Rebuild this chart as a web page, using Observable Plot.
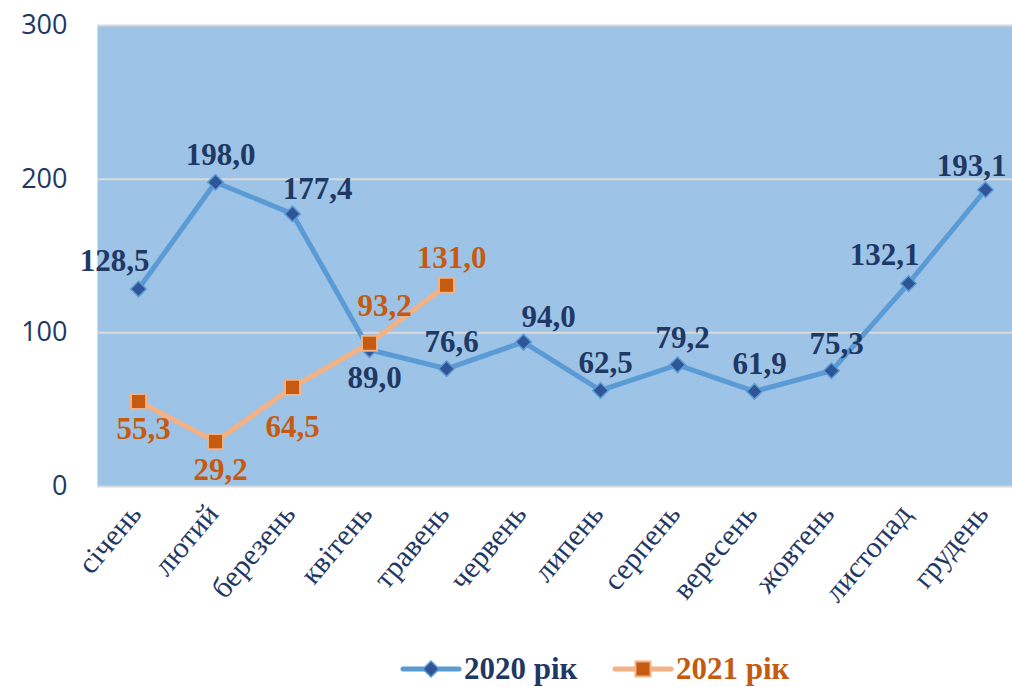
<!DOCTYPE html>
<html><head><meta charset="utf-8">
<script src="https://cdn.jsdelivr.net/npm/d3@7"></script>
<script src="https://cdn.jsdelivr.net/npm/@observablehq/plot@0.6"></script>
<style>
body{margin:0;background:#fff;}
#chart{position:relative;width:1012px;height:687px;overflow:hidden;}
#legend{position:absolute;left:0;top:640px;}
</style>
</head><body><div id="chart"></div>
<script>
const months = ["січень","лютий","березень","квітень","травень","червень","липень","серпень","вересень","жовтень","листопад","грудень"];
const values2020 = [128.5,198.0,177.4,89.0,76.6,94.0,62.5,79.2,61.9,75.3,132.1,193.1];
const values2021 = [55.3,29.2,64.5,93.2,131.0];
const labelPos2020 = ["tl","t","tr","b","t","tr","t","t","t","t","tl","te"];
const labelPos2021 = ["b","b","b2","tr2","t"];
const yTicks = [0,100,200,300];
const seriesNames = ["2020 рік","2021 рік"];

const offsets = {
  t:[5,-27], tl:[-24,-28], tr:[25,-25], tr2:[15,-37], b:[5,28], b2:[0,40], te:[-14,-24]
};
const fmt = v => d3.format(".1f")(v).replace(".", ",");
const d2020 = values2020.map((v,i)=>({month:months[i], value:v, pos:labelPos2020[i]}));
const d2021 = values2021.map((v,i)=>({month:months[i], value:v, pos:labelPos2021[i]}));

function labels(data, color){
  return Object.entries(offsets).map(([k,[dx,dy]]) =>
    Plot.text(data.filter(d=>d.pos===k), {x:"month", y:"value", text:d=>fmt(d.value), dx, dy,
      fill:color, fontSize:31, fontWeight:"bold", fontFamily:"Liberation Serif, Times New Roman, serif"}));
}

const c2020 = {line:"#5B9BD5", marker:"#2F5597", text:"#1F3864"};
const c2021 = {line:"#F4B183", marker:"#C55A11", text:"#C55A11"};

const plot = Plot.plot({
  width:1012, height:640,
  marginLeft:97, marginRight:-13, marginTop:25, marginBottom:154,
  style:{background:"transparent", overflow:"visible"},
  x:{type:"point", domain:months, padding:0.5, label:null},
  y:{domain:[0,300], label:null},
  marks:[
    Plot.frame({fill:"#9DC3E6", stroke:null}),
    Plot.ruleY(yTicks, {stroke:"#D9D9D9", strokeWidth:2}),
    Plot.axisY({ticks:yTicks, tickSize:0, tickPadding:30, fontSize:27, fontFamily:"Open Sans, sans-serif", fill:"#203864", label:null}),
    Plot.axisX({tickSize:0, tickRotate:-50, tickPadding:22, dx:-3, fontSize:30, fontFamily:"Liberation Serif, Times New Roman, serif", fill:"#1F3864", label:null}),
    Plot.line(d2020, {x:"month", y:"value", stroke:c2020.line, strokeWidth:5}),
    Plot.line(d2021, {x:"month", y:"value", stroke:c2021.line, strokeWidth:5}),
    Plot.dot(d2020, {x:"month", y:"value", symbol:"diamond2", r:7, fill:c2020.marker, stroke:c2020.line, strokeWidth:1.5}),
    Plot.dot(d2021, {x:"month", y:"value", symbol:"square", r:8.5, fill:c2021.marker, stroke:c2021.line, strokeWidth:2}),
    ...labels(d2020, c2020.text),
    ...labels(d2021, c2021.text)
  ]
});
const chart = document.getElementById("chart");
chart.appendChild(plot);

// legend
const leg = d3.create("svg").attr("id","legend").attr("width",1012).attr("height",47);
const items = [
  {name:seriesNames[0], c:c2020, x0:403, sym:"diamond"},
  {name:seriesNames[1], c:c2021, x0:615, sym:"square"}
];
items.forEach(it=>{
  const g = leg.append("g");
  g.append("line").attr("x1",it.x0).attr("x2",it.x0+56).attr("y1",29).attr("y2",29)
    .attr("stroke",it.c.line).attr("stroke-width",5).attr("stroke-linecap","round");
  const cx = it.x0+28;
  if(it.sym==="diamond"){
    g.append("path").attr("d",`M${cx},21L${cx+8},29L${cx},37L${cx-8},29Z`).attr("fill",it.c.marker).attr("stroke",it.c.line).attr("stroke-width",1.5);
  } else {
    g.append("rect").attr("x",cx-7.5).attr("y",21.5).attr("width",15).attr("height",15).attr("fill",it.c.marker).attr("stroke",it.c.line).attr("stroke-width",2);
  }
  g.append("text").attr("x",it.x0+61).attr("y",39).text(it.name)
    .attr("fill",it.c.text).attr("font-size",31).attr("font-weight","bold")
    .attr("font-family","Liberation Serif, Times New Roman, serif");
});
chart.appendChild(leg.node());
</script>
</body></html>
